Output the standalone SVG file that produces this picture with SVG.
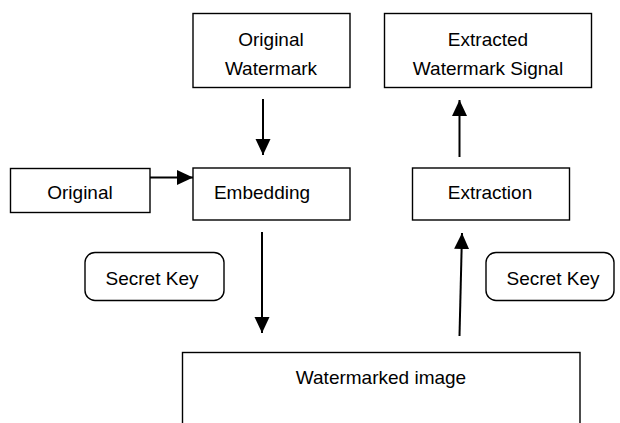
<svg xmlns="http://www.w3.org/2000/svg" width="620" height="423" viewBox="0 0 620 423">
<style>
.box{fill:#fff;stroke:#000;stroke-width:1.4}
.t{font-family:"Liberation Sans",Arial,sans-serif;font-size:19px;fill:#000;text-anchor:middle}
.c{stroke:#000;stroke-width:2;fill:none;marker-end:url(#ah)}
</style>
<defs>
<marker id="ah" markerUnits="userSpaceOnUse" markerWidth="18" markerHeight="16" refX="16" refY="7.5" orient="auto" viewBox="0 0 18 16">
<path d="M0,0 L16,7.5 L0,15 z" fill="#000"/>
</marker>
</defs>
<rect width="620" height="423" fill="#fff"/>
<g id="original-watermark"><rect class="box" x="193" y="13.5" width="157" height="74"/><text class="t" x="271" y="46">Original</text><text class="t" x="271" y="75">Watermark</text></g>
<g id="extracted"><rect class="box" x="384.5" y="13.5" width="207" height="74"/><text class="t" x="488" y="46">Extracted</text><text class="t" x="488" y="75">Watermark Signal</text></g>
<g id="original"><rect class="box" x="10.5" y="168.5" width="139.5" height="44"/><text class="t" x="80" y="199">Original</text></g>
<g id="embedding"><rect class="box" x="193" y="168" width="157" height="52"/><text class="t" x="262" y="199">Embedding</text></g>
<g id="extraction"><rect class="box" x="412.5" y="168" width="157" height="52"/><text class="t" x="490" y="199">Extraction</text></g>
<g id="secret-key-left"><rect class="box" x="85" y="252.5" width="139" height="48" rx="10"/><text class="t" x="152" y="285">Secret Key</text></g>
<g id="secret-key-right"><rect class="box" x="486" y="252.5" width="128" height="48" rx="10"/><text class="t" x="553" y="285">Secret Key</text></g>
<g id="watermarked-image"><rect class="box" x="182.5" y="352.5" width="397.5" height="80"/><text class="t" x="381" y="384">Watermarked image</text></g>
<g id="connectors">
<line class="c" x1="263" y1="99" x2="263" y2="155"/>
<line class="c" x1="150" y1="177.5" x2="193" y2="177.5"/>
<line class="c" x1="262" y1="232" x2="262" y2="333"/>
<line class="c" x1="459.5" y1="157" x2="459.5" y2="100"/>
<line class="c" x1="459.5" y1="336" x2="462" y2="233"/>
</g>
</svg>
